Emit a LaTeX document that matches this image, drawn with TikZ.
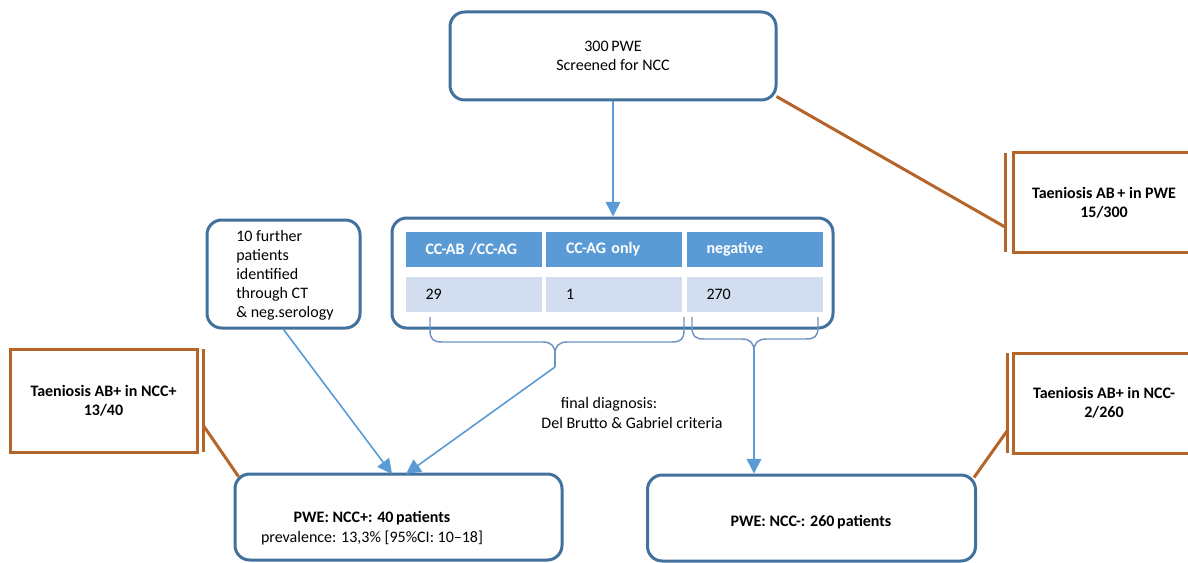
\documentclass[tikz,border=0pt]{standalone}
\usepackage{fontspec}
\setmainfont{Carlito}
\usetikzlibrary{arrows.meta,calc}
\definecolor{boxblue}{HTML}{41719C}
\definecolor{arrblue}{HTML}{5B9BD5}
\definecolor{braceblue}{HTML}{6F93C4}
\definecolor{rowfill}{HTML}{D2DEEF}
\definecolor{orangeb}{HTML}{B5652A}
\tikzset{
  rbox/.style={draw=boxblue, line width=2.25pt, rounded corners=11pt, fill=white, align=center, font=\fontsize{12}{14.5}\selectfont},
  obox/.style={draw=orangeb, line width=2.25pt, fill=white, align=center, font=\fontsize{12}{14.5}\selectfont\bfseries},
  obar/.style={draw=orangeb, line width=2.25pt},
  oline/.style={draw=orangeb, line width=2.25pt},
  flow/.style={draw=arrblue, line width=1.2pt, -{Triangle[length=11pt,width=11pt]}},
  bracepath/.style={draw=braceblue, line width=1.1pt},
  hcell/.style={fill=arrblue, text=white, minimum height=26.25pt, text width=72pt, inner xsep=15pt, inner ysep=0pt, align=left, font=\fontsize{12}{14}\selectfont\bfseries},
  rcell/.style={fill=rowfill, text=black, minimum height=26.25pt, text width=72pt, inner xsep=15pt, inner ysep=0pt, align=left, font=\fontsize{12}{14}\selectfont},
  plain/.style={inner sep=0pt, font=\fontsize{12}{14.5}\selectfont}
}
\begin{document}
\begin{tikzpicture}[x=0.75pt,y=-0.75pt]
\useasboundingbox (0,0) rectangle (1188,563);
\clip (0,0) rectangle (1188,563);
\fill[white] (0,0) rectangle (1188,563);

% main boxes
\node[rbox, minimum width=244.5pt, minimum height=66pt] (top) at (613,56) {300\,PWE\\Screened for NCC};
\node[rbox, minimum width=330.75pt, minimum height=82.5pt] (tbl) at (612.5,273) {};
\node[rbox, minimum width=114.75pt, minimum height=81pt] (further) at (283.5,274) {};
\node[plain, anchor=west, align=left, font=\fontsize{12}{14.3}\selectfont] (furtherText) at (236,275) {10 further\\patients\\identified\\through CT\\\& neg.serology};
\node[rbox, minimum width=245.25pt, minimum height=64.5pt] (ncpos) at (398.5,517) {};
\node[plain, align=center] (ncposText) at (372,528) {\textbf{PWE: NCC+: 40\,patients}\\prevalence: 13,3\% [95\%CI: 10–18]};
\node[rbox, minimum width=246pt, minimum height=64.5pt] (ncneg) at (811.5,518) {};
\node[plain, font=\fontsize{12}{14.5}\selectfont\bfseries] (ncnegText) at (811,522) {PWE: NCC-: 260\,patients};

% table cells
\node[hcell] (h1) at (473.5,249.5) {CC-AB /CC-AG};
\node[hcell] (h2) at (614,249.5) {CC-AG only};
\node[hcell] (h3) at (754.5,249.5) {negative};
\node[rcell] (r1) at (473.5,294.5) {29};
\node[rcell] (r2) at (614,294.5) {1};
\node[rcell] (r3) at (754.5,294.5) {270};

% orange boxes
\node[obox, minimum width=136.5pt, minimum height=74.25pt] (tpwe) at (1104,202.5) {Taeniosis AB\,+ in PWE\\15/300};
\node[obox, minimum width=140.25pt, minimum height=77.25pt] (lpos) at (103.5,400.5) {Taeniosis AB+ in NCC+\\13/40};
\node[obox, minimum width=136.5pt, minimum height=75pt] (lneg) at (1104,403) {Taeniosis AB+ in NCC-\\2/260};

% orange bars
\coordinate (b1t) at (1005,153); \coordinate (b1b) at (1005,252);
\coordinate (b2t) at (203,349); \coordinate (b2b) at (203,452);
\coordinate (b3t) at (1007,353); \coordinate (b3b) at (1007,453);
\draw[obar] (b1t) -- (b1b);
\draw[obar] (b2t) -- (b2b);
\draw[obar] (b3t) -- (b3b);
\coordinate (b1m) at (1005,227);
\coordinate (b2m) at (203,425);
\coordinate (b3m) at (1007,431);
\draw[oline] ($(top.south east)+(-1,-5)$) -- (b1m);
\draw[oline] (b2m) -- ($(ncpos.north west)+(5,4)$);
\draw[oline] (b3m) -- ($(ncneg.north east)+(-3,4)$);

% braces
\draw[bracepath] (430,317) -- (430,330) .. controls (430,339) and (433,342) .. (442,342) -- (543,342) .. controls (551,342) and (555,346) .. (555,354) .. controls (555,346) and (559,342) .. (567,342) -- (672,342) .. controls (681,342) and (684,339) .. (684,330) -- (684,317);
\draw[bracepath] (692,317) -- (692,327) .. controls (692,336) and (695,339) .. (704,339) -- (742,339) .. controls (750,339) and (754,343) .. (754,351) .. controls (754,343) and (758,339) .. (766,339) -- (806,339) .. controls (815,339) and (818,336) .. (818,327) -- (818,317);
\coordinate (lb) at (555,354);
\coordinate (rb) at (754,351);
\draw[bracepath] (lb) -- (555,367);
\coordinate (lbt) at (555,367);

% flow arrows
\draw[flow] (top.south) -- (top.south |- tbl.north);
\coordinate (pin1) at (392,474);
\coordinate (pin2) at (406,474);
\draw[flow] (further.south) -- (pin1);
\draw[flow] (lbt) -- (pin2);
\draw[flow] (rb) -- (rb |- ncneg.north);

% final diagnosis text
\node[plain] (fd1) at (609,404) {final diagnosis:};
\node[plain] (fd2) at (632,423) {Del Brutto \& Gabriel criteria};
\end{tikzpicture}
\end{document}
